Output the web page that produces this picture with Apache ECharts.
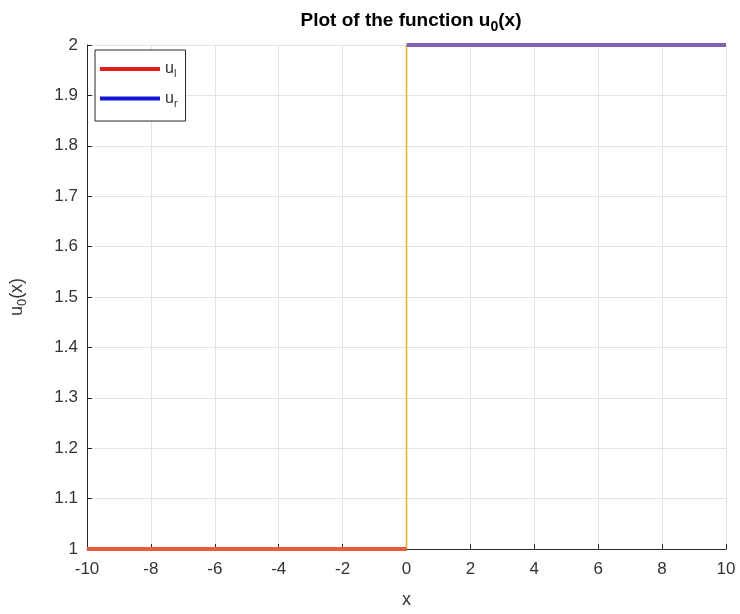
<!DOCTYPE html>
<html lang="en">
<head>
    <meta charset="UTF-8">
    <title>u0 plot</title>
    <script src="https://cdn.jsdelivr.net/npm/echarts@6/dist/echarts.min.js"></script>
</head>
<body style="margin:0; background:#fff;">
<div id="main" style="width: 740px; height: 614px;"></div>
<script type="text/javascript">
    // values
    const xLeft = [-10, 0];
    const uLeft = [1, 1];
    const xJump = [0, 0];
    const uJump = [1, 2];
    const xRight = [0, 10];
    const uRight = [2, 2];
    const xTicks = [-10, -8, -6, -4, -2, 0, 2, 4, 6, 8, 10];
    const yTicks = [1, 1.1, 1.2, 1.3, 1.4, 1.5, 1.6, 1.7, 1.8, 1.9, 2];

    function pairs(xs, ys) {
        return xs.map((x, i) => [x, ys[i]]);
    }

    const font = 'Liberation Sans, Arial, sans-serif';
    const axisColor = '#262626';
    const textColor = '#333';

    let myChart = echarts.init(document.getElementById('main'));
    const option = {
        animation: false,
        title: {
            text: '{b|Plot of the function u}{s|0}{b|(x)}',
            left: 406,
            textAlign: 'center',
            top: 2,
            textStyle: {
                rich: {
                    b: { fontFamily: font, fontSize: 19, fontWeight: 'bold', color: '#000' },
                    s: { fontFamily: font, fontSize: 14, fontWeight: 'bold', color: '#000', padding: [13, 0, 0, 0] }
                }
            }
        },
        legend: {
            orient: 'vertical',
            left: 95,
            top: 50,
            itemWidth: 60,
            itemHeight: 4,
            itemGap: 11,
            padding: [11, 8, 12, 5],
            borderColor: axisColor,
            borderWidth: 1,
            backgroundColor: '#fff',
            data: [
                { name: 'u_l', icon: 'rect', itemStyle: { color: '#e21b1b' } },
                { name: 'u_r', icon: 'rect', itemStyle: { color: '#1414d9' } }
            ],
            formatter: name => '{b|u}{s|' + name.slice(2) + '}',
            textStyle: {
                fontFamily: font,
                fontSize: 16,
                color: textColor,
                rich: {
                    b: { fontFamily: font, fontSize: 16, color: textColor },
                    s: { fontFamily: font, fontSize: 11, color: textColor, padding: [10, 0, 0, 0] }
                }
            }
        },
        grid: { left: 85, right: 14, top: 45, bottom: 61 },
        xAxis: {
            type: 'value',
            min: xTicks[0],
            max: xTicks[xTicks.length - 1],
            interval: 2,
            name: 'x',
            nameLocation: 'middle',
            nameGap: 42,
            nameTextStyle: { fontFamily: font, fontSize: 18, color: textColor },
            axisLine: { onZero: false, lineStyle: { color: axisColor, width: 1 } },
            axisTick: { inside: true, length: 5, lineStyle: { color: axisColor } },
            axisLabel: { fontFamily: font, fontSize: 17, color: textColor, margin: 12 },
            splitLine: { show: true, lineStyle: { color: '#e3e3e3', width: 1 } }
        },
        yAxis: {
            type: 'value',
            min: yTicks[0],
            max: yTicks[yTicks.length - 1],
            interval: 0.1,
            name: '{b|u}{s|0}{b|(x)}',
            nameLocation: 'middle',
            nameGap: 58,
            nameTextStyle: {
                rich: {
                    b: { fontFamily: font, fontSize: 18, color: textColor },
                    s: { fontFamily: font, fontSize: 13, color: textColor, padding: [11, 0, 0, 0] }
                }
            },
            axisLine: { show: true, onZero: false, lineStyle: { color: axisColor, width: 1 } },
            axisTick: { inside: true, length: 5, lineStyle: { color: axisColor } },
            axisLabel: {
                fontFamily: font, fontSize: 17, color: textColor, margin: 9,
                formatter: v => String(+v.toFixed(1))
            },
            splitLine: { show: true, lineStyle: { color: '#e3e3e3', width: 1 } }
        },
        series: [
            {
                name: 'u_l',
                type: 'line',
                data: pairs(xLeft, uLeft),
                showSymbol: false,
                z: 3,
                clip: false,
                lineStyle: { color: '#ea5a3c', width: 4 }
            },
            {
                name: 'jump',
                type: 'line',
                data: pairs(xJump, uJump),
                showSymbol: false,
                z: 2,
                lineStyle: { color: '#edb120', width: 1.5 }
            },
            {
                name: 'u_r',
                type: 'line',
                data: pairs(xRight, uRight),
                showSymbol: false,
                z: 3,
                clip: false,
                lineStyle: { color: '#7e62b8', width: 4 }
            }
        ]
    };
    myChart.setOption(option);
</script>
</body>
</html>
